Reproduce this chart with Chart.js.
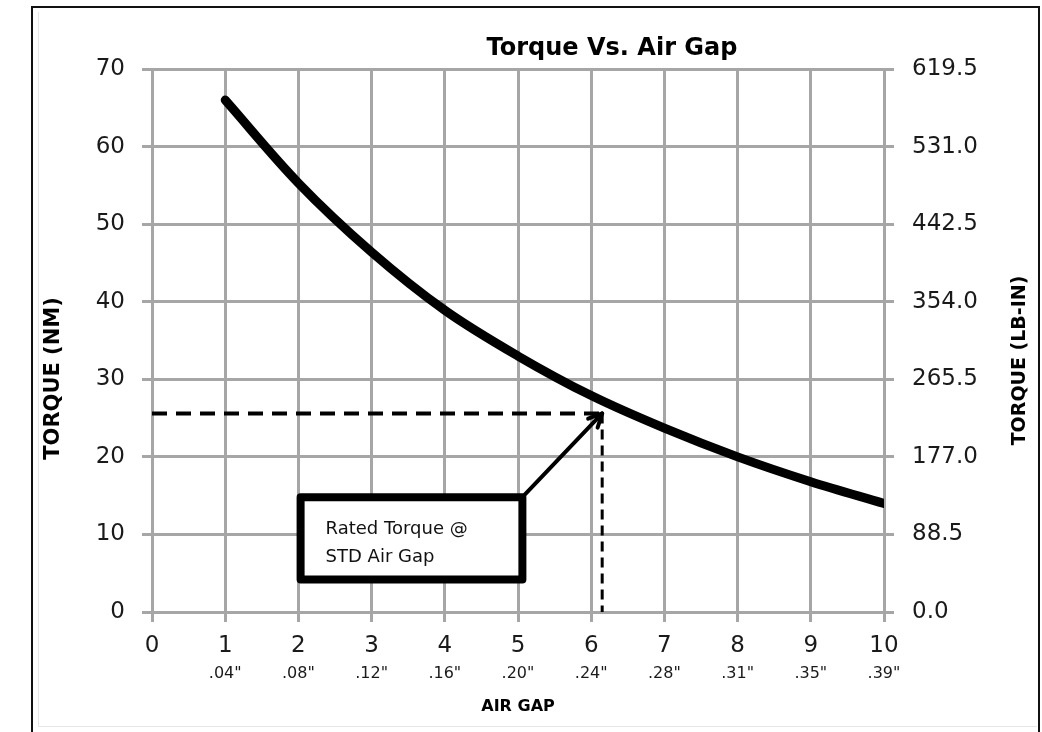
<!DOCTYPE html>
<html>
<head>
<meta charset="utf-8">
<title>Torque Vs. Air Gap</title>
<script src="https://cdn.jsdelivr.net/npm/chart.js@4.4.1/dist/chart.umd.min.js"></script>
<style>
  html, body { margin: 0; padding: 0; background: #fff; }
  #wrap { width: 1042px; height: 732px; }
</style>
</head>
<body>
<div id="wrap"><canvas id="torqueChart" width="1042" height="732"></canvas></div>
<script>
// air gap step (x) and torque in N·m
const airGapSteps = [1, 2, 3, 4, 5, 6, 7, 8, 9, 10];
const torqueNm = [66.0, 55.3, 46.4, 38.9, 33.0, 27.9, 23.7, 20.0, 16.8, 14.0];
const gapInchLabels = ['', '.04"', '.08"', '.12"', '.16"', '.20"', '.24"', '.28"', '.31"', '.35"', '.39"'];
const lbInTicks = ['0.0', '88.5', '177.0', '265.5', '354.0', '442.5', '531.0', '619.5'];
// rated point (STD air gap)
const ratedGap = 6.15;
const ratedTorque = 25.6;

const gridGray = '#a6a6a6';
const textColor = '#1a1a1a';
const font = 'DejaVu Sans';

const framePlugin = {
    id: 'frame',
    beforeDraw(chart) {
        const ctx = chart.ctx;
        ctx.save();
        ctx.fillStyle = '#fff';
        ctx.fillRect(0, 0, chart.width, chart.height);
        ctx.strokeStyle = '#e6e6e6';
        ctx.lineWidth = 1;
        ctx.beginPath();
        ctx.moveTo(38.5, 12);
        ctx.lineTo(38.5, 726.5);
        ctx.lineTo(1037, 726.5);
        ctx.stroke();
        ctx.strokeStyle = '#111';
        ctx.lineWidth = 2;
        ctx.beginPath();
        ctx.moveTo(32, 732);
        ctx.lineTo(32, 7);
        ctx.lineTo(1039, 7);
        ctx.lineTo(1039, 732);
        ctx.stroke();
        ctx.restore();
    }
};

// callout box + arrow pointing at the rated point
const calloutPlugin = {
    id: 'callout',
    afterDatasetsDraw(chart) {
        const ctx = chart.ctx;
        const xs = chart.scales.x, ys = chart.scales.y;
        const left = xs.getPixelForValue(2.03), right = xs.getPixelForValue(5.06);
        const top = ys.getPixelForValue(14.8), bottom = ys.getPixelForValue(4.2);
        const tipX = xs.getPixelForValue(ratedGap), tipY = ys.getPixelForValue(ratedTorque);

        ctx.save();
        ctx.fillStyle = '#fff';
        ctx.fillRect(left, top, right - left, bottom - top);
        ctx.strokeStyle = '#000';
        ctx.lineWidth = 8;
        ctx.lineJoin = 'round';
        ctx.strokeRect(left, top, right - left, bottom - top);

        ctx.fillStyle = '#111';
        ctx.font = '18px "' + font + '"';
        ctx.textBaseline = 'alphabetic';
        ctx.fillText('Rated Torque @', left + 25, top + 37);
        ctx.fillText('STD Air Gap', left + 25, top + 65);

        // arrow
        const sx = right, sy = top;
        ctx.lineWidth = 4;
        ctx.lineCap = 'round';
        ctx.beginPath();
        ctx.moveTo(sx, sy);
        ctx.lineTo(tipX, tipY);
        ctx.stroke();
        const ang = Math.atan2(tipY - sy, tipX - sx);
        const len = 15;
        ctx.beginPath();
        ctx.moveTo(tipX - len * Math.cos(ang - 0.45), tipY - len * Math.sin(ang - 0.45));
        ctx.lineTo(tipX, tipY);
        ctx.lineTo(tipX - len * Math.cos(ang + 0.45), tipY - len * Math.sin(ang + 0.45));
        ctx.stroke();
        ctx.restore();
    },
    afterDraw(chart) {
        const ctx = chart.ctx;
        const area = chart.chartArea;
        ctx.save();
        ctx.fillStyle = '#000';
        ctx.textAlign = 'center';
        ctx.textBaseline = 'alphabetic';
        ctx.font = 'bold 24px "' + font + '"';
        ctx.fillText('Torque Vs. Air Gap', 612, 55);

        ctx.font = 'bold 21px "' + font + '"';
        ctx.textBaseline = 'middle';
        ctx.translate(54, (area.top + area.bottom) / 2 + 38);
        ctx.rotate(-Math.PI / 2);
        ctx.fillText('TORQUE (NM)', 0, 0);
        ctx.restore();

        ctx.save();
        ctx.fillStyle = '#000';
        ctx.textAlign = 'center';
        ctx.textBaseline = 'middle';
        ctx.font = 'bold 19px "' + font + '"';
        ctx.translate(1020, (area.top + area.bottom) / 2 + 20);
        ctx.rotate(-Math.PI / 2);
        ctx.fillText('TORQUE (LB-IN)', 0, 0);
        ctx.restore();
    }
};

const tickFont = { family: font, size: 23 };

new Chart(document.getElementById('torqueChart'), {
    type: 'line',
    data: {
        datasets: [{
            label: 'Torque',
            data: airGapSteps.map((g, i) => ({ x: g, y: torqueNm[i] })),
            borderColor: '#000',
            borderWidth: 9,
            borderCapStyle: 'round',
            pointRadius: 0,
            tension: 0.35,
            xAxisID: 'x',
            yAxisID: 'y'
        }, {
            label: 'Rated torque',
            data: [{ x: 0, y: ratedTorque }, { x: ratedGap, y: ratedTorque }],
            borderColor: '#000',
            borderWidth: 4,
            borderDash: [15, 9],
            pointRadius: 0,
            tension: 0,
            xAxisID: 'x',
            yAxisID: 'y'
        }, {
            label: 'STD air gap',
            data: [{ x: ratedGap, y: ratedTorque }, { x: ratedGap, y: 0 }],
            borderColor: '#000',
            borderWidth: 3,
            borderDash: [10, 6],
            pointRadius: 0,
            tension: 0,
            xAxisID: 'x',
            yAxisID: 'y'
        }]
    },
    options: {
        responsive: false,
        animation: false,
        layout: { padding: { top: 69, left: 0, right: 0, bottom: 0 } },
        plugins: {
            legend: { display: false },
            tooltip: { enabled: false }
        },
        scales: {
            x: {
                type: 'linear',
                position: 'bottom',
                weight: 0,
                min: 0,
                max: 10,
                ticks: { stepSize: 1, font: tickFont, color: textColor, padding: 10, autoSkip: false, maxRotation: 0 },
                grid: { color: gridGray, lineWidth: 3, tickLength: 10 },
                border: { color: gridGray, width: 3 },
                afterFit(s) { s.height = 52; }
            },
            x2: {
                type: 'linear',
                position: 'bottom',
                weight: 1,
                min: 0,
                max: 10,
                ticks: {
                    stepSize: 1,
                    autoSkip: false,
                    maxRotation: 0,
                    padding: 0,
                    font: { family: font, size: 16 },
                    color: textColor,
                    callback: (v) => gapInchLabels[v]
                },
                grid: { display: false, drawTicks: false },
                border: { display: false },
                title: {
                    display: true,
                    text: 'AIR GAP',
                    color: '#000',
                    font: { family: font, size: 16, weight: 'bold' },
                    padding: { top: 4, bottom: 16 }
                },
                afterFit(s) { s.height = 68; }
            },
            y: {
                position: 'left',
                min: 0,
                max: 70,
                ticks: { stepSize: 10, font: tickFont, color: textColor, padding: 17 },
                grid: { color: gridGray, lineWidth: 3, tickLength: 10 },
                border: { color: gridGray, width: 3 },
                afterFit(s) { s.width = 152; }
            },
            y2: {
                position: 'right',
                min: 0,
                max: 70,
                ticks: {
                    stepSize: 10,
                    font: tickFont,
                    color: textColor,
                    padding: 18,
                    callback: (v) => lbInTicks[Math.round(v / 10)]
                },
                grid: { color: gridGray, lineWidth: 3, tickLength: 10, drawOnChartArea: false },
                border: { color: gridGray, width: 3 },
                afterFit(s) { s.width = 158; }
            }
        }
    },
    plugins: [framePlugin, calloutPlugin]
});
</script>
</body>
</html>
